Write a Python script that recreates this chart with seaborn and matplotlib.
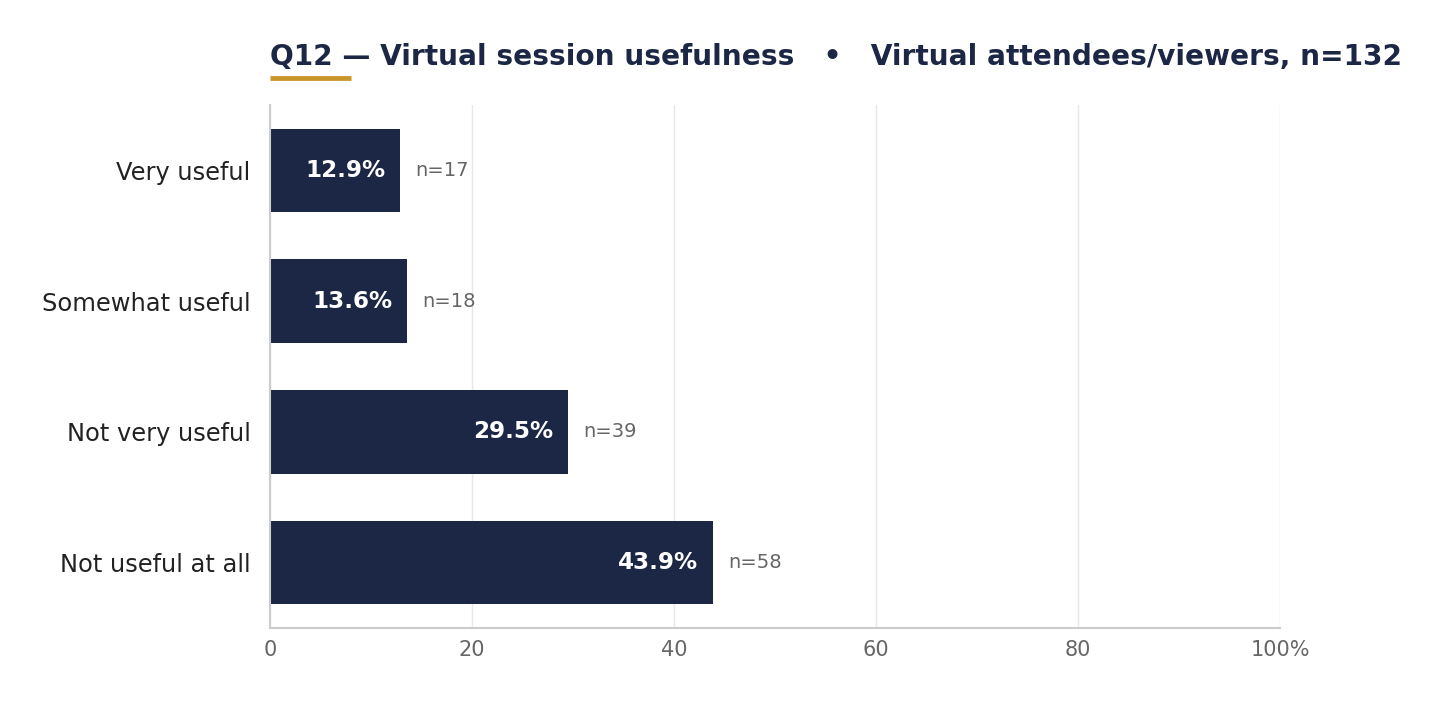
import numpy as np
import pandas as pd
import matplotlib
matplotlib.use("Agg")
import matplotlib.pyplot as plt
import seaborn as sns

categories = ["Very useful", "Somewhat useful", "Not very useful", "Not useful at all"]
percents = [12.9, 13.6, 29.5, 43.9]
counts = [17, 18, 39, 58]
x_ticks = [0, 20, 40, 60, 80, 100]
x_labels = ["0", "20", "40", "60", "80", "100%"]
title = "Q12 \u2014 Virtual session usefulness   \u2022   Virtual attendees/viewers, n=132"

navy = "#1b2744"
gold = "#c9962b"

sns.set_style("white")
plt.rcParams["font.family"] = ["DejaVu Sans"]

df = pd.DataFrame({"cat": categories, "pct": percents, "n": counts})

fig = plt.figure(figsize=(14.45, 7.03), dpi=100)
ax = fig.add_axes([0.1869, 0.1067, 0.8858 - 0.1869, 0.8506 - 0.1067])
ax.set_axisbelow(True)
sns.barplot(data=df, x="pct", y="cat", orient="h", color=navy, width=0.64,
            saturation=1, linewidth=0, ax=ax, zorder=2)

ax.set_xlim(0, 100)
ax.set_ylim(3.5, -0.5)
ax.set_xticks(x_ticks)
ax.set_xticklabels(x_labels, fontsize=15, color="#666666")
ax.tick_params(axis="y", labelsize=17.4, labelcolor="#222222", length=0, pad=14)
ax.tick_params(axis="x", length=0, pad=9)
ax.set_xlabel("")
ax.set_ylabel("")
ax.grid(axis="x", color="#e8e8e8", linewidth=1, zorder=0)
for s in ["top", "right"]:
    ax.spines[s].set_visible(False)
for s in ["left", "bottom"]:
    ax.spines[s].set_color("#cccccc")
    ax.spines[s].set_linewidth(1.5)
    ax.spines[s].set_zorder(3)

for i, (p, n) in enumerate(zip(percents, counts)):
    ax.text(p - 1.5, i, f"{p:.1f}%", ha="right", va="center", color="white",
            fontsize=16.6, fontweight="bold", zorder=4)
    ax.text(p + 1.5, i, f"n={n}", ha="left", va="center", color="#666666",
            fontsize=14, zorder=4)

fig.text(0.1869, 0.919, title, ha="left", va="center", fontsize=20.2,
         fontweight="bold", color=navy)
fig.add_artist(plt.Line2D([270 / 1445, 351 / 1445], [1 - 78 / 703, 1 - 78 / 703],
                          color=gold, linewidth=3.5, solid_capstyle="butt"))

fig.savefig("out.png", dpi=100)
